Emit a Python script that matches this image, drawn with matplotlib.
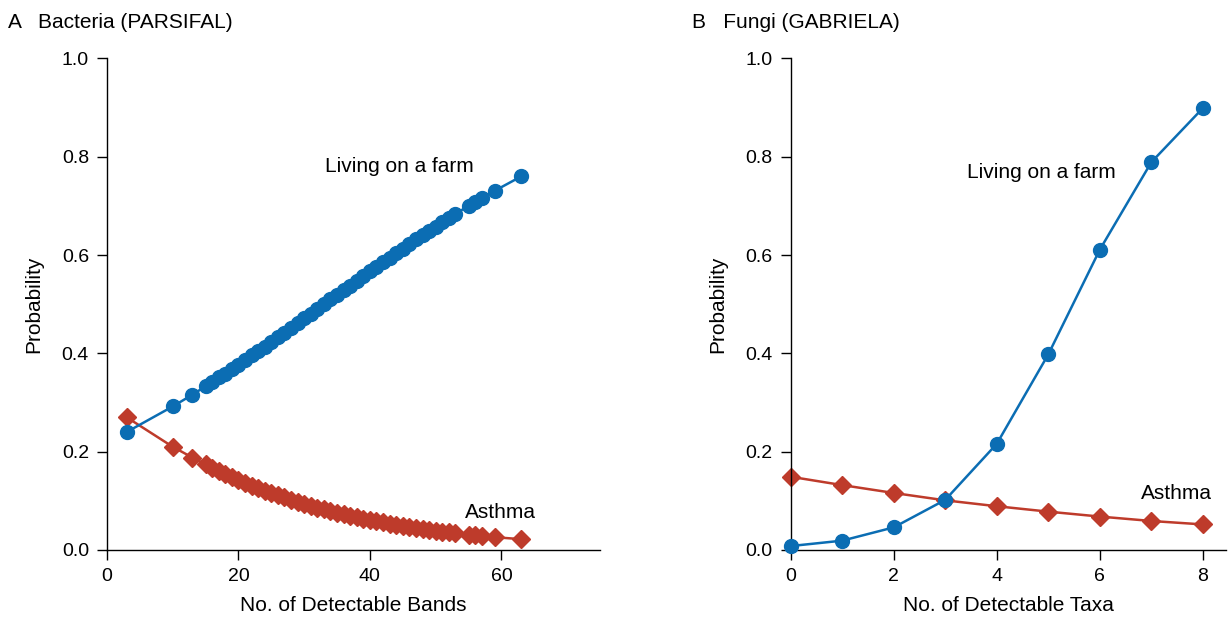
import numpy as np
import matplotlib
matplotlib.use("Agg")
import matplotlib.pyplot as plt

plt.rcParams['font.family'] = ['Liberation Sans', 'DejaVu Sans']

# Panel A: bacteria (PARSIFAL)
bands = [3, 10, 13] + list(range(15, 54)) + [55, 56, 57, 59, 63]
farm_bact = [0.240, 0.292, 0.316,
             0.333, 0.342, 0.351, 0.359, 0.368, 0.377, 0.387, 0.396, 0.405, 0.414,
             0.424, 0.433, 0.442, 0.452, 0.462, 0.471, 0.481, 0.490, 0.500, 0.510,
             0.519, 0.529, 0.538, 0.548, 0.558, 0.567, 0.576, 0.586, 0.595, 0.604,
             0.613, 0.623, 0.632, 0.641, 0.649, 0.658, 0.667, 0.675, 0.684,
             0.700, 0.708, 0.716, 0.731, 0.760]
asthma_bact = [0.270, 0.210, 0.188,
               0.174, 0.167, 0.161, 0.154, 0.148, 0.143, 0.137, 0.131, 0.126, 0.121,
               0.116, 0.111, 0.107, 0.102, 0.098, 0.094, 0.090, 0.086, 0.083, 0.079,
               0.076, 0.073, 0.070, 0.067, 0.064, 0.061, 0.058, 0.056, 0.053, 0.051,
               0.049, 0.047, 0.045, 0.043, 0.041, 0.039, 0.037, 0.036, 0.034,
               0.031, 0.030, 0.028, 0.026, 0.022]

# Panel B: fungi (GABRIELA)
taxa = [0, 1, 2, 3, 4, 5, 6, 7, 8]
farm_fungi = [0.008, 0.019, 0.046, 0.102, 0.216, 0.398, 0.611, 0.789, 0.899]
asthma_fungi = [0.149, 0.132, 0.116, 0.101, 0.089, 0.078, 0.068, 0.059, 0.052]

BLUE = '#0b6db3'
RED = '#be3b2b'
FS = 15      # labels, titles, annotations
TFS = 14     # tick labels

fig = plt.figure(figsize=(12.28, 6.19), dpi=100)
ax1 = fig.add_axes([0.0871, 0.1115, 0.4015, 0.7940])
ax2 = fig.add_axes([0.6439, 0.1115, 0.3545, 0.7940])


def style(ax, xlim, xticks, xlabel):
    ax.set_xlim(*xlim)
    ax.set_ylim(0, 1.0)
    ax.set_xticks(xticks)
    ax.set_yticks([0, 0.2, 0.4, 0.6, 0.8, 1.0])
    ax.set_yticklabels(['0.0', '0.2', '0.4', '0.6', '0.8', '1.0'])
    ax.spines['top'].set_visible(False)
    ax.spines['right'].set_visible(False)
    for s in ['left', 'bottom']:
        ax.spines[s].set_linewidth(1.0)
    ax.tick_params(direction='out', length=7, width=1.0, labelsize=TFS, pad=6)
    ax.set_xlabel(xlabel, fontsize=FS, labelpad=8)
    ax.set_ylabel('Probability', fontsize=FS, labelpad=13)


ax1.plot(bands, farm_bact, color=BLUE, lw=1.8, marker='o', ms=10, clip_on=False, zorder=3)
ax1.plot(bands, asthma_bact, color=RED, lw=1.8, marker='D', ms=9.5, clip_on=False, zorder=2)
style(ax1, (0, 75), [0, 20, 40, 60], 'No. of Detectable Bands')
ax1.text(33.2, 0.78, 'Living on a farm', fontsize=FS, va='center', ha='left')
ax1.text(54.5, 0.077, 'Asthma', fontsize=FS, va='center', ha='left')

ax2.plot(taxa, farm_fungi, color=BLUE, lw=1.8, marker='o', ms=10, clip_on=False, zorder=3)
ax2.plot(taxa, asthma_fungi, color=RED, lw=1.8, marker='D', ms=9.5, clip_on=False, zorder=2)
style(ax2, (0, 8.45), [0, 2, 4, 6, 8], 'No. of Detectable Taxa')
ax2.text(3.42, 0.768, 'Living on a farm', fontsize=FS, va='center', ha='left')
ax2.text(6.8, 0.115, 'Asthma', fontsize=FS, va='center', ha='left')

fig.text(0.0065, 0.963, 'A   Bacteria (PARSIFAL)', fontsize=FS, va='center', ha='left')
fig.text(0.5635, 0.963, 'B   Fungi (GABRIELA)', fontsize=FS, va='center', ha='left')

fig.savefig('out.png', dpi=100)
